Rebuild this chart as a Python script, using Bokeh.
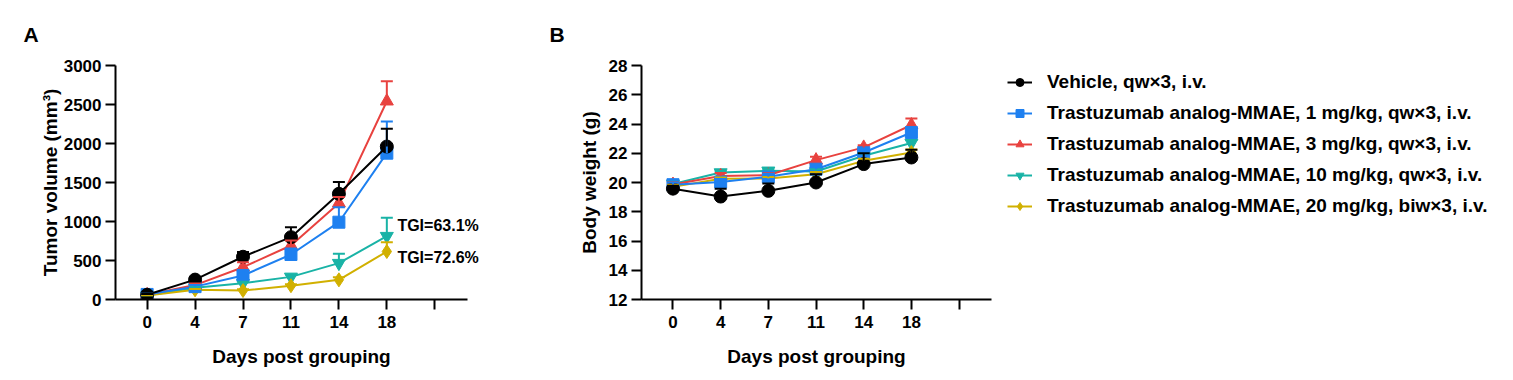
from bokeh.plotting import figure
from bokeh.layouts import row
from bokeh.models import (Range1d, FixedTicker, Whisker, ColumnDataSource, Legend,
                          LegendItem, Label, TeeHead)
from bokeh.embed import file_html
from bokeh.resources import INLINE

# ---------------- data ----------------
days = ["0", "4", "7", "11", "14", "18"]
groups = [
    "Vehicle, qw×3, i.v.",
    "Trastuzumab analog-MMAE, 1 mg/kg, qw×3, i.v.",
    "Trastuzumab analog-MMAE, 3 mg/kg, qw×3, i.v.",
    "Trastuzumab analog-MMAE, 10 mg/kg, qw×3, i.v.",
    "Trastuzumab analog-MMAE, 20 mg/kg, biw×3, i.v.",
]
colors = ["#000000", "#1E80F0", "#E8423F", "#19B3A6", "#D1B000"]
markers = ["circle", "square", "triangle", "inverted_triangle", "diamond"]
marker_sizes = [13, 12, 13, 13, 14]

# Tumor volume (mm^3), mean and SEM
tv_vehicle = [60, 255, 548, 799, 1355, 1961]
tv_vehicle_err = [10, 25, 60, 128, 150, 227]
tv_1mg = [65, 165, 308, 577, 991, 1876]
tv_1mg_err = [10, 20, 64, 77, 192, 406]
tv_3mg = [60, 185, 414, 692, 1235, 2542]
tv_3mg_err = [10, 20, 64, 64, 80, 257]
tv_10mg = [50, 150, 209, 290, 466, 812]
tv_10mg_err = [5, 15, 20, 30, 120, 235]
tv_20mg = [50, 124, 115, 177, 252, 615]
tv_20mg_err = [5, 10, 15, 20, 34, 120]

# Body weight (g), mean and SEM
bw_vehicle = [19.58, 19.04, 19.43, 20.0, 21.26, 21.71]
bw_vehicle_err = [0.2, 0.54, 0.5, 0.57, 0.74, 0.53]
bw_1mg = [19.85, 20.04, 20.39, 20.91, 22.05, 23.42]
bw_1mg_err = [0.15, 0.2, 0.2, 0.2, 0.2, 0.3]
bw_3mg = [19.86, 20.45, 20.5, 21.53, 22.4, 23.93]
bw_3mg_err = [0.15, 0.2, 0.15, 0.23, 0.15, 0.45]
bw_10mg = [19.9, 20.68, 20.8, 20.75, 21.83, 22.7]
bw_10mg_err = [0.15, 0.1, 0.1, 0.15, 0.15, 0.2]
bw_20mg = [19.7, 20.25, 20.27, 20.57, 21.48, 22.05]
bw_20mg_err = [0.15, 0.1, 0.1, 0.15, 0.15, 0.2]

tgi_labels = ["TGI=63.1%", "TGI=72.6%"]

tv_means = [tv_vehicle, tv_1mg, tv_3mg, tv_10mg, tv_20mg]
tv_errs = [tv_vehicle_err, tv_1mg_err, tv_3mg_err, tv_10mg_err, tv_20mg_err]
bw_means = [bw_vehicle, bw_1mg, bw_3mg, bw_10mg, bw_20mg]
bw_errs = [bw_vehicle_err, bw_1mg_err, bw_3mg_err, bw_10mg_err, bw_20mg_err]

FONT = "Liberation Sans"
X_BOUNDS = (-0.66, 6.68)
draw_order = [3, 4, 2, 1, 0]


def style(p, ylabel, yticks, ylabel_standoff, panel_letter):
    p.xaxis.ticker = FixedTicker(ticks=list(range(len(days) + 1)))
    overrides = {i: d for i, d in enumerate(days)}
    overrides[len(days)] = ""
    p.xaxis.major_label_overrides = overrides
    p.xaxis.bounds = X_BOUNDS
    p.yaxis.ticker = FixedTicker(ticks=yticks)
    p.xaxis.axis_label = "Days post grouping"
    p.yaxis.axis_label = ylabel
    for ax in (p.xaxis, p.yaxis):
        ax.axis_line_width = 2
        ax.axis_line_color = "black"
        ax.major_tick_line_width = 2
        ax.major_tick_line_color = "black"
        ax.major_tick_out = 10
        ax.major_tick_in = 0
        ax.minor_tick_line_color = None
        ax.major_label_text_font = FONT
        ax.major_label_text_font_style = "bold"
        ax.major_label_text_font_size = "17px"
        ax.major_label_text_color = "black"
        ax.axis_label_text_font = FONT
        ax.axis_label_text_font_style = "bold"
        ax.axis_label_text_font_size = "19px"
        ax.axis_label_text_color = "black"
    p.xaxis.major_label_standoff = 6
    p.xaxis.axis_label_standoff = 15
    p.yaxis.major_label_standoff = 4
    p.yaxis.axis_label_standoff = ylabel_standoff
    p.xgrid.visible = False
    p.ygrid.visible = False
    p.outline_line_color = None
    p.background_fill_color = "white"
    p.border_fill_color = "white"
    p.title.text = panel_letter
    p.title.align = "left"
    p.title.offset = -92
    p.title.standoff = 39
    p.title.vertical_align = "bottom"
    p.title.text_font = FONT
    p.title.text_font_style = "bold"
    p.title.text_font_size = "21px"
    p.title.text_color = "black"


def add_series(p, means, errs):
    renderers = {}
    for i in draw_order:
        c = colors[i]
        src = ColumnDataSource(dict(
            x=list(range(len(days))),
            y=means[i],
            upper=[m + e for m, e in zip(means[i], errs[i])],
        ))
        w = Whisker(base="x", upper="upper", lower="y", source=src,
                    dimension="height", line_color=c, line_width=2,
                    upper_head=TeeHead(size=12, line_color=c, line_width=2),
                    lower_head=None, level="glyph")
        p.add_layout(w)
        lr = p.line("x", "y", source=src, line_color=c, line_width=2)
        sr = p.scatter("x", "y", source=src, marker=markers[i], size=marker_sizes[i],
                       fill_color=c, line_color=c)
        renderers[i] = [lr, sr]
    return renderers


# ---------------- panel A ----------------
pA = figure(frame_width=372, frame_height=234, output_backend="svg", toolbar_location=None,
            x_range=Range1d(X_BOUNDS[0], 7.1), y_range=Range1d(0, 3000),
            min_border_left=115, min_border_right=41, min_border_top=65, min_border_bottom=73)
style(pA, "Tumor volume (mm³)", [0, 500, 1000, 1500, 2000, 2500, 3000], 0, "A")
add_series(pA, tv_means, tv_errs)
for txt, yv in zip(tgi_labels, [949, 538]):
    pA.add_layout(Label(x=5.22, y=yv, text=txt, text_font=FONT, text_font_style="bold",
                        text_font_size="16px", text_baseline="middle", text_align="left",
                        text_color="black"))

# ---------------- panel B ----------------
pB = figure(frame_width=350, frame_height=234, output_backend="svg", toolbar_location=None,
            x_range=Range1d(*X_BOUNDS), y_range=Range1d(12, 28),
            min_border_left=113, min_border_right=514, min_border_top=65, min_border_bottom=73)
style(pB, "Body weight (g)", [12, 14, 16, 18, 20, 22, 24, 26, 28], 6, "B")
rB = add_series(pB, bw_means, bw_errs)

legend = Legend(items=[LegendItem(label=groups[i], renderers=rB[i]) for i in range(5)],
                location=(16, 82), orientation="vertical",
                label_text_font=FONT, label_text_font_style="bold",
                label_text_font_size="19px", label_text_color="black",
                glyph_width=25, glyph_height=20, label_height=20, spacing=9,
                label_standoff=15, padding=0, margin=0,
                border_line_color=None, background_fill_alpha=0)
pB.add_layout(legend, "right")

layout = row(pA, pB, spacing=0)
open("out.html", "w").write(file_html(layout, INLINE))
